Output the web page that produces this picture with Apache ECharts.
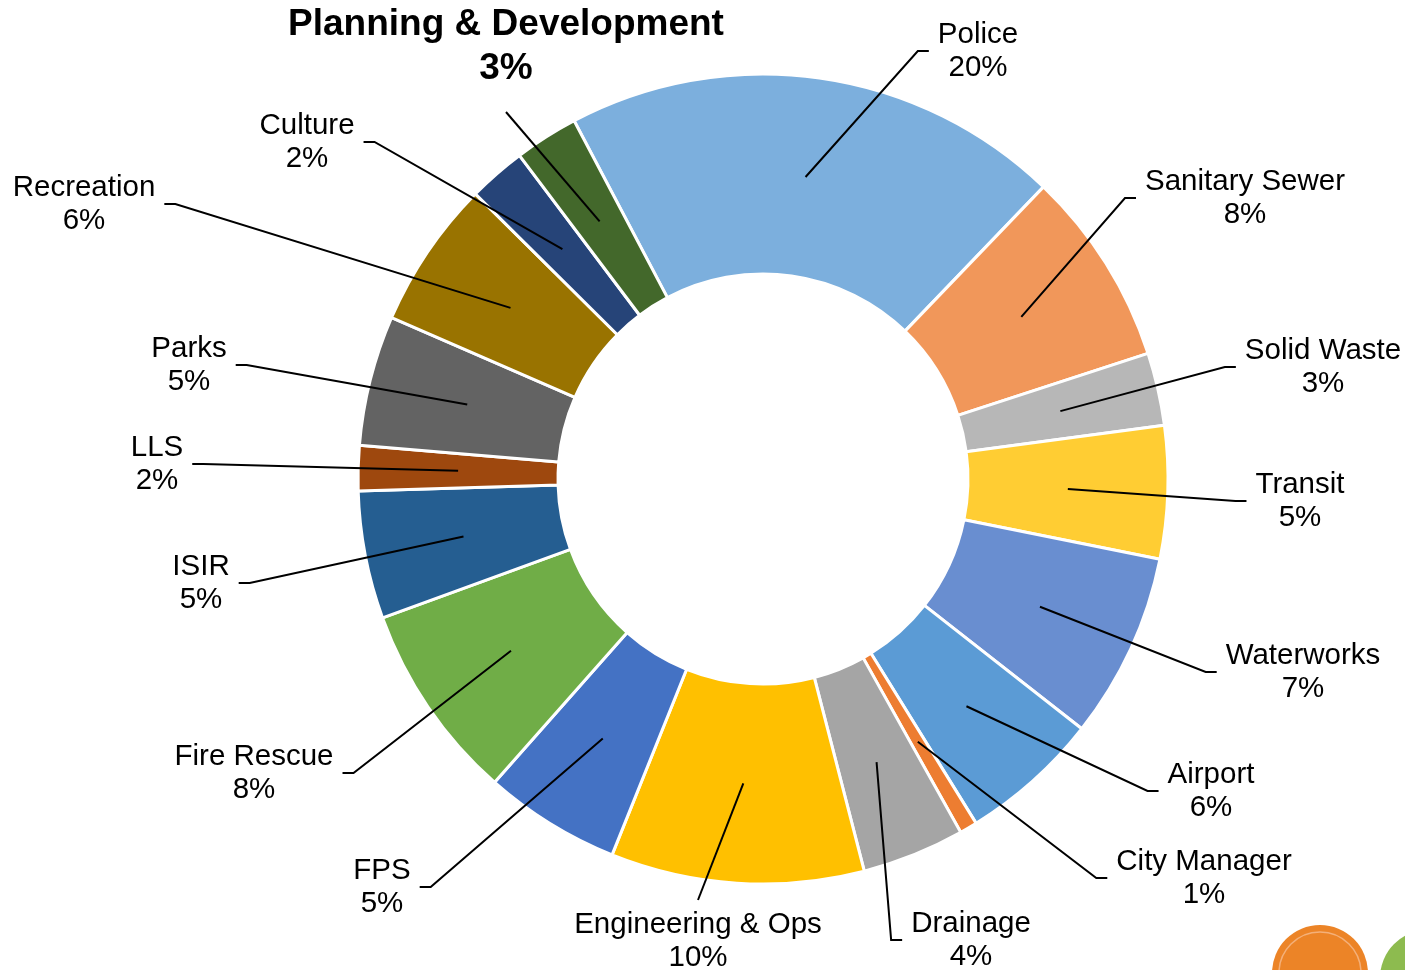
<!DOCTYPE html>
<html>
<head>
<meta charset="utf-8">
<script src="https://cdn.jsdelivr.net/npm/echarts@6/dist/echarts.min.js"></script>
<style>
  html, body { margin: 0; padding: 0; background: #fff; }
  #main { width: 1405px; height: 970px; }
</style>
</head>
<body>
<div id="main"></div>
<script>
// departments, clockwise from the top
var departments = ['Police', 'Sanitary Sewer', 'Solid Waste', 'Transit', 'Waterworks', 'Airport',
    'City Manager', 'Drainage', 'Engineering & Ops', 'FPS', 'Fire Rescue', 'ISIR', 'LLS',
    'Parks', 'Recreation', 'Culture', 'Planning & Development'];
// share of budget (%)
var shares = [19.9, 7.8, 2.9, 5.3, 7.4, 5.6, 0.7, 4.1, 10.1, 5.45, 7.9, 5.1, 1.8, 5.2, 5.9, 2.3, 2.55];

var colors = ['#7CAFDD', '#F1975A', '#B7B7B7', '#FFCD33', '#698ED0', '#5B9BD5', '#ED7D31', '#A5A5A5',
    '#FFC000', '#4472C4', '#70AD47', '#255E91', '#9E480E', '#636363', '#997300', '#264478', '#43682B'];

// where each label sits (center of text) and which side the leader line attaches to
var labelSpots = [
    [978, 51, 'l'], [1245, 198, 'l'], [1323, 367, 'l'], [1300, 501, 'l'], [1303, 672, 'l'],
    [1211, 791, 'l'], [1204, 878, 'l'], [971, 940, 'l'], [698, 941, 't'], [382, 887, 'r'],
    [254, 773, 'r'], [201, 583, 'r'], [157, 464, 'r'], [189, 365, 'r'], [84, 204, 'r'],
    [307, 142, 'r'], [506, 47, 'b']
];

var cx = 763, cy = 479, rIn = 205, rOut = 405, startAngle = 117.8;
var total = shares.reduce(function (a, b) { return a + b; }, 0);

// anchor of each leader line: mid angle of slice, middle of the ring
function anchorOf(i) {
    var before = 0;
    for (var k = 0; k < i; k++) before += shares[k];
    var ang = (startAngle - (before + shares[i] / 2) / total * 360) * Math.PI / 180;
    var r = (rIn + rOut) / 2;
    return [cx + r * Math.cos(ang), cy - r * Math.sin(ang)];
}

var myChart = echarts.init(document.getElementById('main'));

// colored ring
var pieData = departments.map(function (name, i) {
    return { name: name, value: shares[i], itemStyle: { color: colors[i] } };
});

// same slices again, invisible, only to carry labels + leader lines on top of the ring
var labelData = departments.map(function (name, i) {
    var item = { name: name, value: shares[i] };
    if (name === 'Planning & Development') {
        item.label = {
            fontWeight: 'bold',
            fontSize: 37,
            lineHeight: 44
        };
    }
    return item;
});

var option = {
    animation: false,
    series: [{
        type: 'pie',
        z: 2,
        center: [cx, cy],
        radius: [rIn, rOut],
        startAngle: startAngle,
        clockwise: true,
        itemStyle: { borderColor: '#fff', borderWidth: 3 },
        label: { show: false },
        labelLine: { show: false },
        data: pieData
    }, {
        type: 'pie',
        z: 5,
        silent: true,
        center: [cx, cy],
        radius: [rIn, rOut],
        startAngle: startAngle,
        clockwise: true,
        avoidLabelOverlap: false,
        itemStyle: { color: 'rgba(0,0,0,0)', borderWidth: 0 },
        label: {
            show: true,
            position: 'outside',
            color: '#000',
            fontFamily: 'Liberation Sans, Arial, sans-serif',
            fontSize: 29.5,
            lineHeight: 33,
            align: 'center',
            formatter: function (p) {
                return p.name + '\n' + Math.round(p.percent) + '%';
            }
        },
        labelLine: {
            show: true,
            lineStyle: { color: '#000', width: 2 }
        },
        labelLayout: function (p) {
            var s = labelSpots[p.dataIndex];
            var w = p.labelRect.width;
            var a = anchorOf(p.dataIndex);
            var pts;
            if (s[2] === 'l') {
                var ex = s[0] - w / 2 - 9;
                pts = [a, [ex - 11, s[1]], [ex, s[1]]];
            } else if (s[2] === 'r') {
                var ex2 = s[0] + w / 2 + 9;
                pts = [a, [ex2 + 11, s[1]], [ex2, s[1]]];
            } else if (s[2] === 't') {
                pts = [a, [s[0], s[1] - 41], [s[0], s[1] - 41]];
            } else {
                pts = [a, [s[0], s[1] + 65], [s[0], s[1] + 65]];
            }
            return {
                x: s[0],
                y: s[1],
                align: 'center',
                verticalAlign: 'middle',
                labelLinePoints: pts
            };
        },
        data: labelData
    }],
    // logos peeking in at the lower right corner
    graphic: [
        { type: 'circle', shape: { cx: 1320, cy: 973, r: 48 }, style: { fill: '#EC8427' }, silent: true },
        { type: 'circle', shape: { cx: 1320, cy: 973, r: 41 }, style: { fill: 'none', stroke: '#F4B079', lineWidth: 1.5 }, silent: true },
        { type: 'circle', shape: { cx: 1428, cy: 978, r: 48 }, style: { fill: '#8DBB4F' }, silent: true }
    ]
};

myChart.setOption(option);
</script>
</body>
</html>
